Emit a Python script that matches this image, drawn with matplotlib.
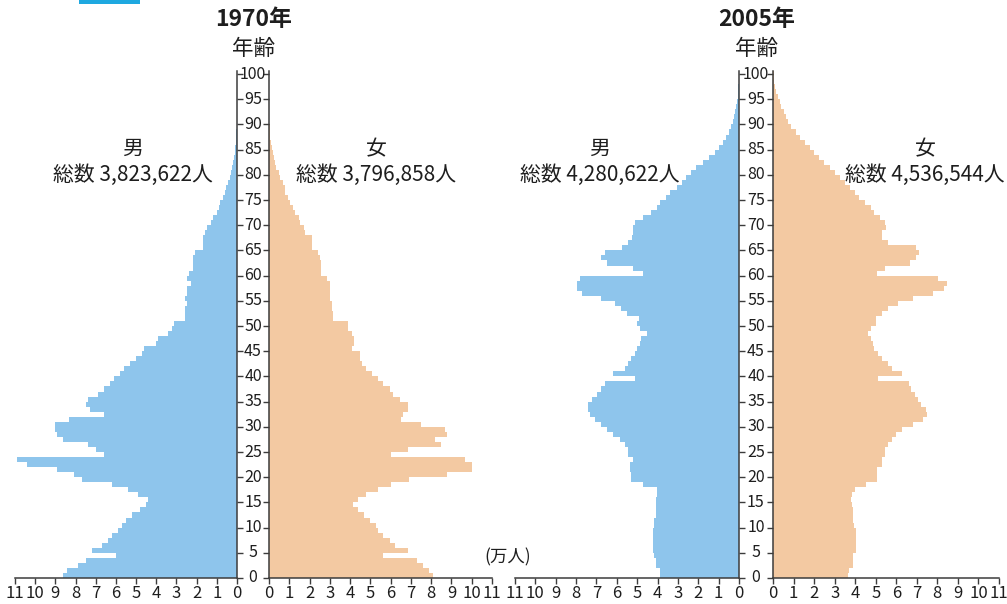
import numpy as np
import matplotlib
matplotlib.use("Agg")
import matplotlib.pyplot as plt
import matplotlib.transforms as mtransforms
from matplotlib.patches import Rectangle

plt.rcParams['font.family'] = ['Noto Sans CJK JP', 'DejaVu Sans']

# age in single years, 0..100 ; values in 万人
ages = np.arange(101)

male_1970 = [8.6, 8.4, 7.9, 7.5, 6.0, 7.2, 6.7, 6.4, 6.2, 5.9,
             5.7, 5.5, 5.2, 4.8, 4.5, 4.4, 4.9, 5.4, 6.2, 7.7,
             8.1, 8.9, 10.4, 10.9, 6.6, 7.0, 7.4, 8.6, 8.9, 9.0,
             9.0, 8.3, 6.6, 7.3, 7.5, 7.4, 6.9, 6.6, 6.3, 6.1,
             5.8, 5.6, 5.3, 5.0, 4.7, 4.6, 4.0, 3.9, 3.4, 3.2,
             3.1, 2.6, 2.6, 2.6, 2.5, 2.6, 2.5, 2.5, 2.3, 2.5,
             2.4, 2.2, 2.2, 2.2, 2.1, 1.7, 1.7, 1.7, 1.6, 1.5,
             1.3, 1.2, 1.0, 0.9, 0.85, 0.7, 0.6, 0.55, 0.45, 0.35,
             0.3, 0.25, 0.2, 0.15, 0.12, 0.08, 0.06, 0.04, 0.03, 0.02,
             0.01, 0, 0, 0, 0, 0, 0, 0, 0, 0, 0]
female_1970 = [8.1, 7.9, 7.6, 7.3, 5.6, 6.85, 6.2, 5.95, 5.6, 5.4,
               5.3, 5.0, 4.7, 4.4, 4.15, 4.4, 4.8, 5.4, 6.0, 6.9,
               8.8, 10.0, 10.0, 9.65, 6.0, 6.85, 8.5, 8.2, 8.8, 8.7,
               7.5, 6.5, 6.6, 6.85, 6.85, 6.45, 6.1, 5.95, 5.6, 5.4,
               5.1, 4.8, 4.6, 4.5, 4.5, 4.1, 4.2, 4.2, 4.1, 3.9,
               3.9, 3.15, 3.15, 3.1, 3.1, 3.0, 3.0, 3.0, 3.0, 2.85,
               2.55, 2.55, 2.55, 2.5, 2.4, 2.1, 2.1, 2.1, 1.8, 1.75,
               1.55, 1.5, 1.3, 1.2, 1.05, 0.95, 0.8, 0.8, 0.7, 0.55,
               0.5, 0.35, 0.3, 0.25, 0.18, 0.15, 0.1, 0.06, 0.04, 0.03,
               0.02, 0, 0, 0, 0, 0, 0, 0, 0, 0, 0]
male_2005 = [3.9, 3.9, 4.1, 4.1, 4.15, 4.2, 4.2, 4.2, 4.2, 4.2,
             4.15, 4.15, 4.1, 4.1, 4.1, 4.1, 4.05, 4.05, 4.7, 5.3,
             5.3, 5.35, 5.35, 5.2, 5.45, 5.45, 5.6, 5.85, 6.2, 6.5,
             6.8, 7.05, 7.3, 7.4, 7.4, 7.2, 6.95, 6.8, 6.6, 5.1,
             6.2, 5.6, 5.45, 5.3, 5.1, 5.0, 4.85, 4.8, 4.5, 4.85,
             5.0, 4.9, 5.5, 5.8, 6.1, 6.8, 7.7, 7.95, 7.95, 7.8,
             4.7, 5.2, 6.5, 6.8, 6.6, 5.75, 5.45, 5.25, 5.2, 5.2,
             5.1, 4.7, 4.3, 4.05, 3.9, 3.6, 3.4, 3.05, 2.8, 2.6,
             2.35, 2.1, 1.75, 1.45, 1.2, 1.0, 0.8, 0.65, 0.5, 0.4,
             0.3, 0.25, 0.2, 0.14, 0.1, 0.07, 0.05, 0.03, 0.02, 0.01, 0.01]
female_2005 = [3.65, 3.7, 3.9, 3.9, 3.9, 4.05, 4.05, 4.05, 4.05, 4.05,
               3.95, 3.9, 3.9, 3.9, 3.85, 3.8, 3.85, 4.0, 4.55, 5.05,
               5.05, 5.05, 5.3, 5.3, 5.45, 5.45, 5.6, 5.8, 6.0, 6.3,
               6.8, 7.3, 7.5, 7.45, 7.2, 7.05, 6.9, 6.7, 6.6, 5.1,
               6.3, 5.8, 5.6, 5.3, 5.1, 4.9, 4.85, 4.75, 4.6, 4.75,
               5.0, 5.0, 5.3, 5.6, 6.1, 6.8, 7.8, 8.3, 8.45, 8.05,
               5.05, 5.45, 6.65, 6.95, 7.1, 6.95, 5.6, 5.3, 5.3, 5.5,
               5.45, 5.2, 4.9, 4.75, 4.5, 4.2, 4.0, 3.75, 3.5, 3.25,
               3.0, 2.75, 2.5, 2.25, 2.0, 1.8, 1.55, 1.3, 1.1, 0.9,
               0.75, 0.65, 0.53, 0.4, 0.33, 0.25, 0.17, 0.1, 0.07, 0.04, 0.03]

years = ["1970年", "2005年"]
totals_male = ["総数 3,823,622人", "総数 4,280,622人"]
totals_female = ["総数 3,796,858人", "総数 4,536,544人"]
x_ticks = list(range(12))
age_ticks = list(range(0, 101, 5))

BLUE = "#8ec5ec"
PEACH = "#f3c9a2"
AXCOL = "#3c3c3c"
TXT = "#1e1e1e"
W, H = 1007, 604

fig = plt.figure(figsize=(W / 100, H / 100), dpi=100)


def fx(px):
    return px / W


def fy(py):
    return 1 - py / H


def make_axes(x0, x1, side):
    y_bot, y_top = 578, 71
    ax = fig.add_axes([fx(x0), fy(y_bot), fx(x1 - x0), (y_bot - y_top) / H])
    ax.set_ylim(0, 100.6)
    ax.set_xlim(11, 0) if side == "m" else ax.set_xlim(0, 11)
    ax.spines["top"].set_visible(False)
    if side == "m":
        ax.spines["left"].set_visible(False)
        ax.yaxis.tick_right()
    else:
        ax.spines["right"].set_visible(False)
    for s in ax.spines.values():
        s.set_color(AXCOL)
        s.set_linewidth(1.1)
    ax.set_yticks(age_ticks)
    ax.set_yticklabels([])
    ax.set_xticks(x_ticks)
    ax.set_xticklabels([str(t) for t in x_ticks])
    ax.tick_params(axis="y", direction="out", length=4, width=1, color=AXCOL)
    ax.tick_params(axis="x", direction="out", length=4, width=1, color=AXCOL,
                   labelsize=12, pad=1, labelcolor=TXT)
    ax.set_facecolor("none")
    return ax


panels = [
    (15, 237, 269, 492, male_1970, female_1970),
    (515, 739, 773, 999, male_2005, female_2005),
]

for i, (m0, m1, f0, f1, mv, fv) in enumerate(panels):
    axm = make_axes(m0, m1, "m")
    axf = make_axes(f0, f1, "f")
    axm.barh(ages, mv, height=1, align="edge", color=BLUE, linewidth=0)
    axf.barh(ages, fv, height=1, align="edge", color=PEACH, linewidth=0)

    cx = (m1 + f0) / 2
    tr = mtransforms.blended_transform_factory(fig.transFigure, axm.transData)
    for a in age_ticks:
        fig.text(fx(cx), a, str(a), transform=tr, ha="center", va="center",
                 fontsize=11.5, color=TXT)

    fig.text(fx(cx + 1), fy(20), years[i], ha="center", va="center",
             fontsize=16.5, fontweight="bold", color=TXT)
    fig.text(fx(cx), fy(49), "年齢", ha="center", va="center",
             fontsize=15.5, color=TXT)

    mcx = 133 if i == 0 else 600
    fcx = 376 if i == 0 else 925
    fig.text(fx(mcx), fy(149), "男", ha="center", va="center", fontsize=15, color=TXT)
    fig.text(fx(mcx), fy(175), totals_male[i], ha="center", va="center", fontsize=15, color=TXT)
    fig.text(fx(fcx), fy(149), "女", ha="center", va="center", fontsize=15, color=TXT)
    fig.text(fx(fcx), fy(175), totals_female[i], ha="center", va="center", fontsize=15, color=TXT)

fig.text(fx(508), fy(557), "(万人)", ha="center", va="center", fontsize=12.5, color=TXT)

# cropped header marker at the top left
fig.patches.append(Rectangle((fx(79), fy(4)), fx(61), 4 / H, transform=fig.transFigure,
                             facecolor="#1ea8e0", edgecolor="none"))

fig.savefig("out.png", dpi=100, facecolor="white")
